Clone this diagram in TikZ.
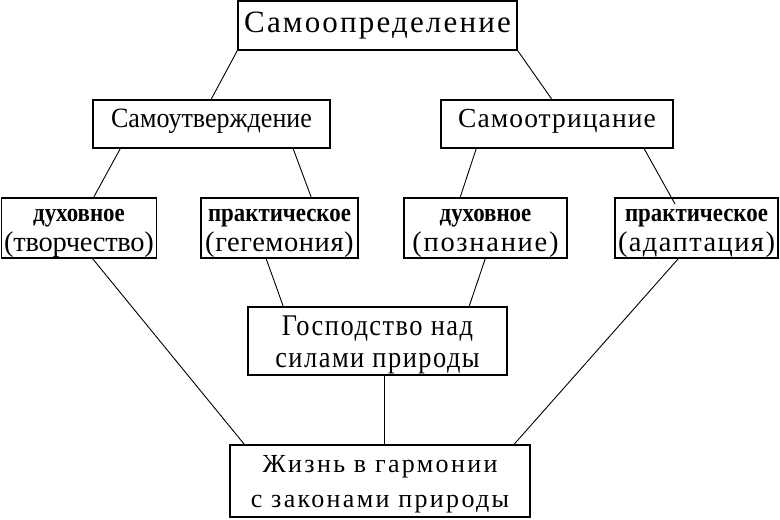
\documentclass[tikz,border=0pt]{standalone}
\usepackage{fontspec}
\setmainfont{Liberation Serif}
\newfontfamily\boldcond[FakeStretch=0.88]{Liberation Serif Bold}
\usetikzlibrary{calc}
\begin{document}
\begin{tikzpicture}[x=1pt,y=-1pt,
  box/.style={draw,line width=1.6pt,inner sep=0pt,align=center,anchor=center},
  conn/.style={line width=0.9pt}]
\useasboundingbox (0,0) rectangle (780,520);
\node[box,minimum width=279pt,minimum height=49pt,text height=22pt,text depth=9pt,
  font=\fontsize{31}{32}\selectfont\addfontfeatures{LetterSpace=7}] (top) at (377.5,25.5) {Самоопределение};
\node[box,minimum width=237pt,minimum height=48pt,text height=19pt,text depth=13pt,
  font=\fontsize{28}{30}\selectfont\addfontfeatures{FakeStretch=0.93}] (r2l) at (211.5,124) {Самоутверждение};
\node[box,minimum width=232pt,minimum height=48pt,text height=19pt,text depth=13pt,
  font=\fontsize{27.5}{30}\selectfont\addfontfeatures{LetterSpace=4}] (r2r) at (557,124) {Самоотрицание};
\tikzset{lvl3/.style={box,minimum height=60pt,font=\fontsize{28.5}{30}\selectfont}}
\newcommand\hd[1]{\rule{0pt}{23pt}{\fontsize{26}{26}\boldcond #1}}
\newcommand\sd[2]{{\addfontfeatures{LetterSpace=#1}#2}\rule[-7pt]{0pt}{7pt}}
\node[lvl3,minimum width=155pt] (b1) at (79,228) {\hd{духовное}\\\sd{-1}{(творчество)}};
\node[lvl3,minimum width=157pt] (b2) at (279.5,228) {\hd{практическое}\\\sd{2}{(гегемония)}};
\node[lvl3,minimum width=163pt] (b3) at (485.5,228) {\hd{духовное}\\\sd{6}{(познание)}};
\node[lvl3,minimum width=163pt] (b4) at (696.5,228) {\hd{практическое}\\\sd{5}{(адаптация)}};
\node[box,minimum width=259pt,minimum height=68pt,
  font=\fontsize{30}{32}\selectfont\addfontfeatures{FakeStretch=0.88,LetterSpace=5}] (gos) at (377.5,341)
  {\rule{0pt}{27pt}Господство над\\силами природы\rule[-7pt]{0pt}{7pt}};
\node[box,minimum width=300pt,minimum height=72pt,
  font=\fontsize{26}{35}\selectfont\addfontfeatures{LetterSpace=9}] (zh) at (380,481)
  {\rule{0pt}{23pt}Жизнь в гармонии\\с законами природы\rule[-6pt]{0pt}{6pt}};
% connectors
\draw[conn] (top.south west) -- ([xshift=119pt]r2l.north west);
\draw[conn] (top.south east) -- ([xshift=-122pt]r2r.north east);
\draw[conn] ([xshift=28pt]r2l.south west) -- ([xshift=93pt]b1.north west);
\draw[conn] ([xshift=201pt]r2l.south west) -- ([xshift=111pt]b2.north west);
\draw[conn] ([xshift=36pt]r2r.south west) -- ([xshift=57pt]b3.north west);
\draw[conn,shorten >=-8pt] ([xshift=204pt]r2r.south west) -- ([xshift=57pt]b4.north west);
\draw[conn] ([xshift=92pt]b1.south west) -- ([xshift=15pt]zh.north west);
\draw[conn] ([xshift=66pt]b2.south west) -- ([xshift=36pt]gos.north west);
\draw[conn] ([xshift=82pt]b3.south west) -- ([xshift=222pt]gos.north west);
\draw[conn] ([xshift=64pt]b4.south west) -- ([xshift=285pt]zh.north west);
\draw[conn] ([xshift=137pt]gos.south west) -- ([xshift=155pt]zh.north west);
\end{tikzpicture}
\end{document}
